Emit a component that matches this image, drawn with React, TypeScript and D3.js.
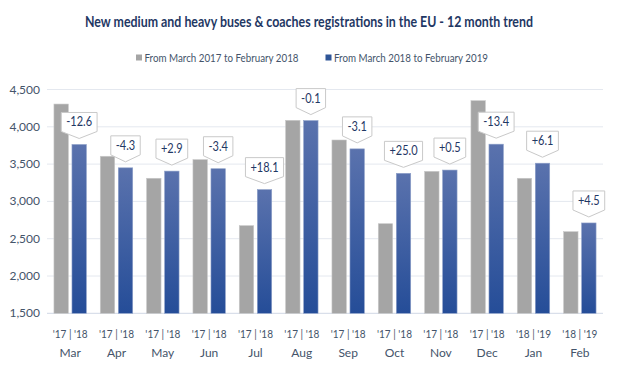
import React, { useEffect, useRef } from "react";
import * as d3 from "d3";

const months = ["Mar", "Apr", "May", "Jun", "Jul", "Aug", "Sep", "Oct", "Nov", "Dec", "Jan", "Feb"];
const yearLabels = [
  "'17 | '18", "'17 | '18", "'17 | '18", "'17 | '18", "'17 | '18", "'17 | '18",
  "'17 | '18", "'17 | '18", "'17 | '18", "'17 | '18", "'18 | '19", "'18 | '19",
];
const prevPeriod = [4305, 3605, 3310, 3560, 2675, 4087, 3823, 2701, 3403, 4350, 3310, 2594];
const currPeriod = [3763, 3450, 3406, 3438, 3158, 4083, 3704, 3376, 3420, 3767, 3512, 2711];
const changes = ["-12.6", "-4.3", "+2.9", "-3.4", "+18.1", "-0.1", "-3.1", "+25.0", "+0.5", "-13.4", "+6.1", "+4.5"];
const yTicks = [1500, 2000, 2500, 3000, 3500, 4000, 4500];
const seriesNames = ["From March 2017 to February 2018", "From March 2018 to February 2019"];

const FONT = "Lato, 'Liberation Sans', sans-serif";

export default function App() {
  const ref = useRef<SVGSVGElement | null>(null);

  useEffect(() => {
    if (!ref.current) return;
    const svg = d3.select(ref.current);
    svg.selectAll("*").remove();

    const width = 630;
    const height = 390;
    const margin = { top: 89.5, right: 27, bottom: 76.7, left: 47 };

    const defs = svg.append("defs");
    const grad = defs
      .append("linearGradient")
      .attr("id", "blueGrad")
      .attr("x1", 0).attr("y1", 0).attr("x2", 0).attr("y2", 1);
    grad.append("stop").attr("offset", "0%").attr("stop-color", "#5a72ad");
    grad.append("stop").attr("offset", "100%").attr("stop-color", "#254d98");

    const x0 = d3
      .scaleBand()
      .domain(months)
      .range([margin.left, width - margin.right])
      .paddingInner(0.3)
      .paddingOuter(0.15);

    const x1 = d3
      .scaleBand()
      .domain(["prev", "curr"])
      .range([0, x0.bandwidth()])
      .paddingInner(0.2);

    const y = d3
      .scaleLinear()
      .domain([1500, 4500])
      .range([height - margin.bottom, margin.top]);

    // title
    svg
      .append("text")
      .attr("x", 85)
      .attr("y", 27)
      .attr("textLength", 448)
      .attr("lengthAdjust", "spacingAndGlyphs")
      .attr("font-family", FONT)
      .attr("font-size", 14.5)
      .attr("font-weight", "bold")
      .attr("fill", "#1f3864")
      .text("New medium and heavy buses & coaches registrations in the EU - 12 month trend");

    // legend
    const legendX = [136, 325.5];
    const legendLen = [154, 154];
    seriesNames.forEach((name, i) => {
      svg
        .append("rect")
        .attr("x", legendX[i])
        .attr("y", 54.5)
        .attr("width", 6)
        .attr("height", 6)
        .attr("fill", i === 0 ? "#a5a5a5" : "#2f5597");
      svg
        .append("text")
        .attr("x", legendX[i] + 8.5)
        .attr("y", 62)
        .attr("textLength", legendLen[i])
        .attr("lengthAdjust", "spacingAndGlyphs")
        .attr("font-family", FONT)
        .attr("font-size", 12)
        .attr("fill", "#44546a")
        .text(name);
    });

    // gridlines
    svg
      .append("g")
      .selectAll("line")
      .data(yTicks)
      .join("line")
      .attr("x1", margin.left)
      .attr("x2", width - margin.right)
      .attr("y1", (d) => y(d))
      .attr("y2", (d) => y(d))
      .attr("stroke", (d) => (d === 1500 ? "#d0d7e5" : "#e4e8ef"))
      .attr("stroke-width", 1);

    // y tick labels
    svg
      .append("g")
      .selectAll("text")
      .data(yTicks)
      .join("text")
      .attr("x", 40)
      .attr("y", (d) => y(d) + 4)
      .attr("text-anchor", "end")
      .attr("font-family", FONT)
      .attr("font-size", 12)
      .attr("fill", "#44546a")
      .text((d) => d3.format(",")(d));

    // bars
    const groups = svg
      .append("g")
      .selectAll("g")
      .data(months.map((m, i) => ({ m, i })))
      .join("g")
      .attr("transform", (d) => `translate(${x0(d.m)},0)`);

    groups
      .append("rect")
      .attr("x", x1("prev")!)
      .attr("y", (d) => y(prevPeriod[d.i]))
      .attr("width", x1.bandwidth())
      .attr("height", (d) => y(1500) - y(prevPeriod[d.i]))
      .attr("fill", "#a5a5a5")
      .attr("stroke", "#c8c8c8")
      .attr("stroke-width", 0.6);

    groups
      .append("rect")
      .attr("x", x1("curr")!)
      .attr("y", (d) => y(currPeriod[d.i]))
      .attr("width", x1.bandwidth())
      .attr("height", (d) => y(1500) - y(currPeriod[d.i]))
      .attr("fill", "url(#blueGrad)")
      .attr("stroke", "#8ea0c9")
      .attr("stroke-width", 0.6);

    // callouts
    groups.each(function (d) {
      const g = d3.select(this);
      const cx = x1("curr")! + x1.bandwidth() / 2;
      const tipY = y(currPeriod[d.i]) - 6;
      const rectBottom = tipY - 7;
      const rectTop = rectBottom - 19;
      const label = g
        .append("text")
        .attr("x", cx)
        .attr("y", rectBottom - 5)
        .attr("text-anchor", "middle")
        .attr("font-family", FONT)
        .attr("font-size", 12.5)
        .attr("fill", "#1f3864")
        .text(changes[d.i]);
      const node = label.node() as SVGTextElement;
      const natural = node.getComputedTextLength();
      const tw = natural * 0.88;
      label.attr("textLength", tw).attr("lengthAdjust", "spacingAndGlyphs");
      const hw = tw / 2 + 5;
      g.insert("path", "text")
        .attr(
          "d",
          `M${cx - hw},${rectTop} L${cx + hw},${rectTop} L${cx + hw},${rectBottom} L${cx},${tipY} L${cx - hw},${rectBottom} Z`
        )
        .attr("fill", "#ffffff")
        .attr("stroke", "#c9c9c9")
        .attr("stroke-width", 1);
    });

    // x labels
    groups
      .append("text")
      .attr("x", x0.bandwidth() / 2)
      .attr("y", 338)
      .attr("text-anchor", "middle")
      .attr("textLength", 35)
      .attr("lengthAdjust", "spacingAndGlyphs")
      .attr("font-family", FONT)
      .attr("font-size", 12)
      .attr("fill", "#44546a")
      .text((d) => yearLabels[d.i]);

    groups
      .append("text")
      .attr("x", x0.bandwidth() / 2)
      .attr("y", 357)
      .attr("text-anchor", "middle")
      .attr("font-family", FONT)
      .attr("font-size", 12)
      .attr("fill", "#44546a")
      .text((d) => d.m);
  }, []);

  return (
    <svg
      ref={ref}
      width={630}
      height={390}
      style={{ position: "absolute", left: 0, top: 0, background: "#ffffff" }}
    ></svg>
  );
}
